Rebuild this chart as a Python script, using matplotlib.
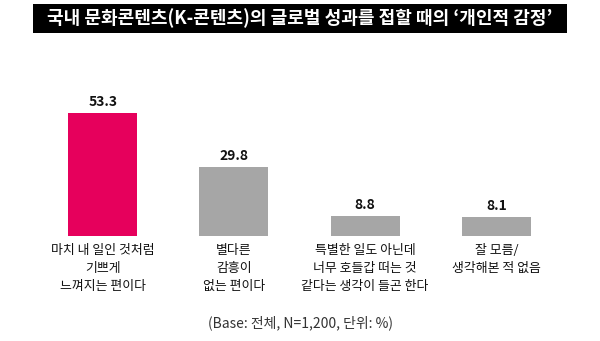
import matplotlib
matplotlib.use("Agg")
import matplotlib.pyplot as plt
from matplotlib.patches import Rectangle

plt.rcParams['font.family'] = ['Noto Sans CJK KR', 'DejaVu Sans']

title = "국내 문화콘텐츠(K-콘텐츠)의 글로벌 성과를 접할 때의 ‘개인적 감정’"
categories = [
    "마치 내 일인 것처럼\n기쁘게\n느껴지는 편이다",
    "별다른\n감흥이\n없는 편이다",
    "특별한 일도 아닌데\n너무 호들갑 떠는 것\n같다는 생각이 들곤 한다",
    "잘 모름/\n생각해본 적 없음",
]
values = [53.3, 29.8, 8.8, 8.1]
bar_colors = ["#E6005C", "#A6A6A6", "#A6A6A6", "#A6A6A6"]
footnote = "(Base: 전체, N=1,200, 단위: %)"

fig = plt.figure(figsize=(6, 3.41), dpi=100)
fig.patch.set_facecolor("white")

# title banner
fig.patches.append(Rectangle((33 / 600, 1 - 33 / 341), 534 / 600, 29 / 341,
                             transform=fig.transFigure, facecolor="black",
                             edgecolor="none", zorder=0))
fig.text(0.5, 1 - 18.5 / 341, title, color="white", fontsize=13,
         fontweight="bold", ha="center", va="center")

ax = fig.add_axes([37 / 600, 1 - 236 / 341, 525 / 600, 138.6 / 341])
x = list(range(len(values)))
ax.bar(x, values, width=0.525, color=bar_colors)
ax.set_xlim(-0.5, 3.5)
ax.set_ylim(0, 60)
ax.axis("off")

for xi, v in zip(x, values):
    ax.annotate(f"{v:.1f}", (xi, v), xytext=(0, 3), textcoords="offset points",
                ha="center", va="bottom", fontsize=10, fontweight="bold",
                color="#111111")
    ax.annotate(categories[xi], (xi, 0), xytext=(0, -6), textcoords="offset points",
                ha="center", va="top", fontsize=9.3, color="#111111",
                fontweight="medium", linespacing=1.5)

fig.text(0.5, 1 - 323 / 341, footnote, fontsize=10, color="#333333",
         ha="center", va="center")

fig.savefig("out.png", dpi=100)
